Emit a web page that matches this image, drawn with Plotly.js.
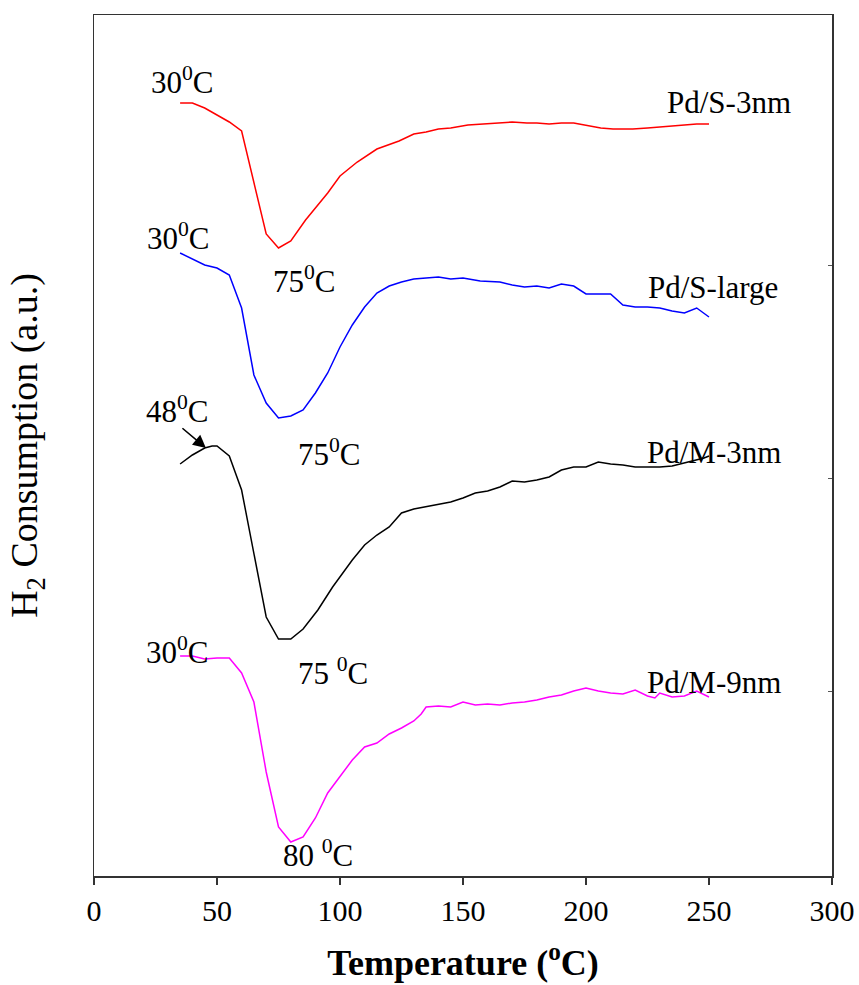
<!DOCTYPE html>
<html>
<head>
<meta charset="utf-8">
<script src="https://cdn.plot.ly/plotly-3.0.1.min.js"></script>
<style>html,body{margin:0;padding:0;background:#fff;}</style>
</head>
<body>
<div id="chart" style="width:859px;height:985px;"></div>
<script>
// Temperature (°C) and H2 consumption (a.u., offset traces)
const tS3 = [35,40,45,50,55,60,70,75,80,86,95,100,107,115,124,130,135,140,145,152,158,165,170,176,180,185,190,195,200,206,211,219,225,230,236,241,245,250];
const yS3 = [773,773,768,761,754,745,642,628,635,656,683,700,714,727,735,742,744,747,748,751,752,753,754,753,753,752,753,753,751,748,747,747,748,749,750,751,752,752];

const tSL = [35,40,45,50,55,60,65,70,75,80,85,90,95,100,105,110,115,120,125,130,135,140,145,150,157,165,170,175,180,185,190,195,200,205,210,215,220,225,230,235,240,245,250];
const ySL = [623,617,611,608,601,568,501,473,458,460,466,483,503,529,551,569,583,590,594,597,598,599,597,598,595,594,591,589,590,588,592,590,582,582,582,571,569,569,568,565,563,568,559];

const tM3 = [35,40,45,48,50,55,60,65,70,75,80,85,91,97,105,110,115,120,125,130,136,140,145,150,155,160,165,170,175,180,185,190,195,200,205,210,215,220,225,230,235,240,244,248,250];
const yM3 = [412,421,428,430,430,420,386,323,259,237,237,247,266,289,316,331,341,349,363,367,370,372,374,378,383,385,389,395,394,396,399,406,409,409,414,412,411,409,409,409,410,413,415,418,420];

const tM9 = [35,40,45,50,55,60,65,70,75,80,85,90,95,100,105,110,115,120,125,130,133,135,140,145,150,155,160,165,170,175,180,185,190,195,200,205,210,215,220,225,228,230,235,240,245,250];
const yM9 = [220,220,217,218,218,203,174,104,49,34,39,58,83,99,116,129,133,142,148,155,162,169,170,169,174,171,172,171,173,174,176,179,181,185,188,185,183,182,186,180,178,183,179,180,185,179];

const seriesNames = ["Pd/S-3nm","Pd/S-large","Pd/M-3nm","Pd/M-9nm"];
const seriesColors = ["#ff0000","#0000ff","#000000","#ff00ff"];

const xTickVals = [0,50,100,150,200,250,300];
const rightTickVals = [185,398,611];

// Annotation labels: [text, T, y]
const labels = [
  ["30<sup>0</sup>C", 35.8, 796],
  ["Pd/S-3nm", 258.2, 774],
  ["30<sup>0</sup>C", 34.2, 640],
  ["75<sup>0</sup>C", 85.4, 597],
  ["Pd/S-large", 251.7, 589],
  ["48<sup>0</sup>C", 33.8, 467],
  ["75<sup>0</sup>C", 95.6, 424],
  ["Pd/M-3nm", 252.1, 424],
  ["30<sup>0</sup>C", 33.8, 226],
  ["75 <sup>0</sup>C", 97.2, 205],
  ["Pd/M-9nm", 252.1, 194],
  ["80 <sup>0</sup>C", 91.1, 23]
];
const arrowTip = [45.5, 428];

const FONT = "Liberation Serif, Times New Roman, serif";
const xs = [tS3, tSL, tM3, tM9];
const ys = [yS3, ySL, yM3, yM9];

const traces = xs.map((x, i) => ({
  x: x, y: ys[i], type: "scatter", mode: "lines", name: seriesNames[i],
  line: {color: seriesColors[i], width: 1.5}, showlegend: false, hoverinfo: "x+y"
}));
// invisible trace to activate the right-hand axis (ticks only)
traces.push({x: [0], y: [0], xaxis: "x", yaxis: "y2", mode: "markers",
  marker: {opacity: 0}, showlegend: false, hoverinfo: "skip"});

const annotations = labels.map(l => ({
  text: l[0], x: l[1], y: l[2], xref: "x", yref: "y",
  showarrow: false, xanchor: "center", yanchor: "middle",
  font: {family: FONT, size: 31, color: "#000"}
}));
annotations.push({
  text: "", x: arrowTip[0], y: arrowTip[1], xref: "x", yref: "y",
  showarrow: true, ax: -25, ay: -21, arrowhead: 2, arrowsize: 1.6,
  arrowwidth: 1.6, arrowcolor: "#000"
});

const layout = {
  width: 859, height: 985,
  margin: {l: 94, r: 27, t: 15, b: 109},
  paper_bgcolor: "#fff", plot_bgcolor: "#fff",
  font: {family: FONT, color: "#000"},
  xaxis: {
    range: [0, 300], tickvals: xTickVals, ticks: "outside", ticklen: 7,
    tickwidth: 1.5, tickcolor: "#333",
    showline: true, linecolor: "#333", linewidth: 1.5, mirror: true,
    showgrid: false, zeroline: false,
    tickfont: {family: FONT, size: 30, color: "#000"},
    title: {text: "<b>Temperature (<sup>o</sup>C)</b>", standoff: 24,
            font: {family: FONT, size: 36, color: "#000"}}
  },
  yaxis: {
    range: [0, 861], showticklabels: false, ticks: "",
    showline: true, linecolor: "#333", linewidth: 1.5, mirror: true,
    showgrid: false, zeroline: false,
    title: {text: "H<sub>2</sub> Consumption (a.u.)", standoff: 43,
            font: {family: FONT, size: 38, color: "#000"}}
  },
  yaxis2: {
    overlaying: "y", side: "right", range: [0, 861],
    tickvals: rightTickVals, ticks: "inside", ticklen: 4, tickcolor: "#555",
    showticklabels: false, showline: false, showgrid: false, zeroline: false
  },
  annotations: annotations
};

Plotly.newPlot("chart", traces, layout, {displayModeBar: false, staticPlot: true});
</script>
</body>
</html>
